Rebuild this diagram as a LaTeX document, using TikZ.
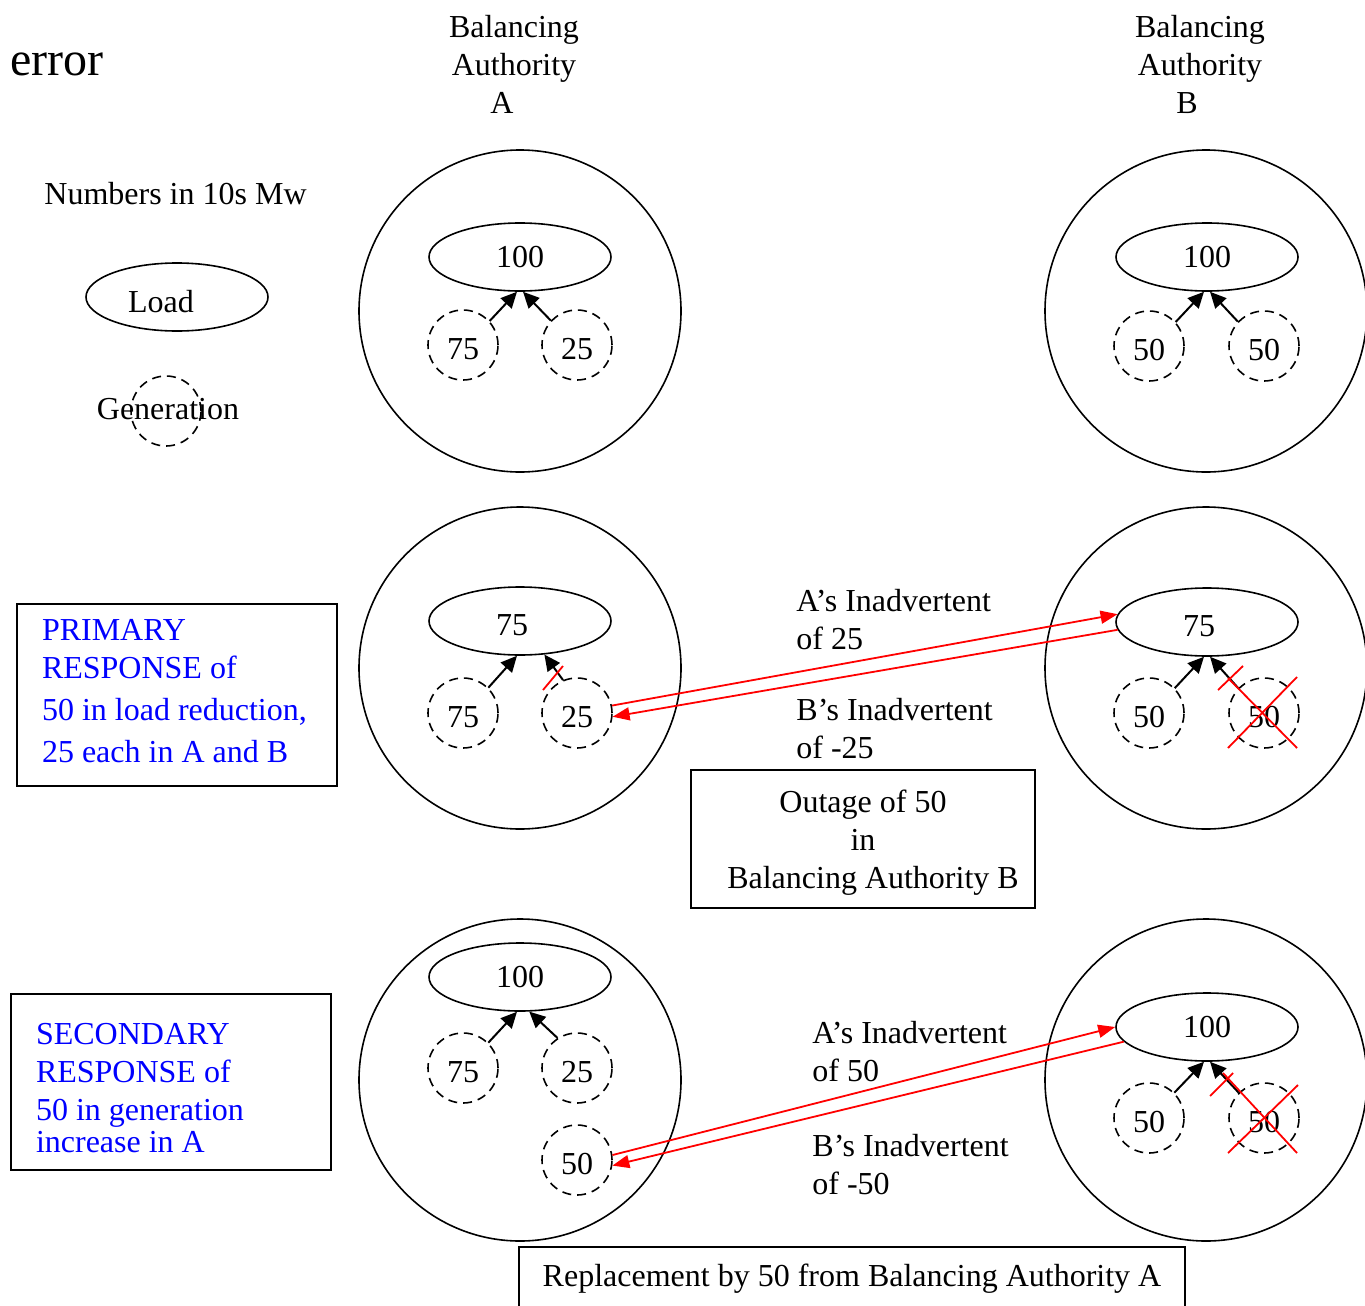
\documentclass[tikz,border=0pt]{standalone}
\usepackage{fontspec}
\setmainfont{Liberation Serif}
\usepackage{tikz}
\usetikzlibrary{
  arrows.meta,
  positioning,
  shapes.geometric
}
\definecolor{respblue}{RGB}{0,0,255}
\definecolor{flowred}{RGB}{255,0,0}
\tikzset{
  region/.style={circle,draw,line width=0.8pt,minimum size=161pt,inner sep=0pt},
  load/.style={ellipse,draw,line width=0.8pt,minimum width=91pt,minimum height=34pt,inner sep=0pt},
  gen/.style={circle,draw,line width=0.8pt,dash pattern=on 4.5pt off 3pt,minimum size=35pt,inner sep=0pt,text height=15pt},
  feed/.style={line width=1pt,-{Triangle[length=8pt,width=7.5pt]}},
  flow/.style={flowred,line width=0.9pt,-{Triangle[length=8.5pt,width=6.5pt]}},
  strike/.style={flowred,line width=0.9pt},
  lbl/.style={inner sep=0pt,align=left,anchor=west},
  respbox/.style={draw,line width=0.8pt,minimum width=160pt,text width=135pt,align=flush left,text=respblue},
  notebox/.style={draw,line width=0.8pt,align=center}
}

\begin{document}
\begin{tikzpicture}[x=0.5pt,y=-0.5pt,font=\fontsize{16}{19}\selectfont]
  \useasboundingbox (0,0) rectangle (1365,1306);

  % headings
  \node[anchor=base west,inner sep=0pt,font=\fontsize{24}{28}\selectfont] (title) at (10,75) {error};
  \node[align=center,inner sep=0pt] (headA) at (514,64) {Balancing\\Authority\\A\hspace*{12pt}};
  \node[align=center,inner sep=0pt] (headB) at (1200,64) {Balancing\\Authority\\B\hspace*{13pt}};

  % legend
  \node[anchor=base west,inner sep=0pt] (units) at (44,204) {Numbers in 10s Mw};
  \node[load] (legload) at (177,297) {};
  \node[anchor=base,inner sep=0pt] (legloadtxt) at (161,312) {Load};
  \node[gen] (leggen) at (166,411) {};
  \node[anchor=base,inner sep=0pt] (leggentxt) at (168,419) {Generation};

  % row 1
  \node[region] (ra1) at (520,311) {};
  \node[region] (rb1) at (1206,311) {};
  \node[load] (la1) at (520,257) {100};
  \node[gen] (ga1l) at (463,345) {75};
  \node[gen] (ga1r) at (577,345) {25};
  \node[load] (lb1) at (1207,257) {100};
  \node[gen] (gb1l) at (1149,346) {50};
  \node[gen] (gb1r) at (1264,346) {50};
  \draw[feed] (ga1l.42) -- (la1.265);
  \draw[feed] (ga1r.137) -- (la1.275);
  \draw[feed] (gb1l.42) -- (lb1.265);
  \draw[feed] (gb1r.137) -- (lb1.275);

  % row 2
  \node[region] (ra2) at (520,668) {};
  \node[region] (rb2) at (1206,668) {};
  \node[load,text height=15pt] (la2) at (520,621) {75\hspace*{8pt}};
  \node[gen] (ga2l) at (463,713) {75};
  \node[gen] (ga2r) at (577,713) {25};
  \node[load,text height=15pt] (lb2) at (1207,622) {75\hspace*{8pt}};
  \node[gen] (gb2l) at (1149,713) {50};
  \node[gen] (gb2r) at (1264,713) {50};
  \draw[feed] (ga2l.45) -- (la2.265);
  \draw[feed] (ga2r.113) -- (la2.306);
  \draw[feed] (gb2l.44) -- (lb2.265);
  \draw[feed] (gb2r.136) -- (lb2.275);
  \draw[strike] ([shift={(-34,-23)}]ga2r.center) -- ([shift={(-14,-47)}]ga2r.center);
  \draw[strike] ([shift={(-46,-23)}]gb2r.center) -- ([shift={(-21,-47)}]gb2r.center);
  \draw[strike] ([shift={(-36,-35)}]gb2r.center) -- ([shift={(33,35)}]gb2r.center);
  \draw[strike] ([shift={(-36,35)}]gb2r.center) -- ([shift={(33,-36)}]gb2r.center);
  \draw[flow] (ga2r.12) -- (lb2.175);
  \draw[flow] (lb2.185) -- (ga2r.354);
  \node[lbl] (inadA2) at (796,620) {A’s Inadvertent\\of 25};
  \node[lbl] (inadB2) at (796,729) {B’s Inadvertent\\of -25};

  % row 3
  \node[region] (ra3) at (520,1080) {};
  \node[region] (rb3) at (1206,1080) {};
  \node[load] (la3) at (520,977) {100};
  \node[gen] (ga3l) at (463,1068) {75};
  \node[gen] (ga3r) at (577,1068) {25};
  \node[gen] (ga3n) at (577,1160) {50};
  \node[load] (lb3) at (1207,1027) {100};
  \node[gen] (gb3l) at (1149,1118) {50};
  \node[gen] (gb3r) at (1264,1118) {50};
  \draw[feed] (ga3l.45) -- (la3.265);
  \draw[feed] (ga3r.123) -- (la3.285);
  \draw[feed] (gb3l.45) -- (lb3.265);
  \draw[feed] (gb3r.135) -- (lb3.275);
  \draw[strike] ([shift={(-54,-22)}]gb3r.center) -- ([shift={(-31,-45)}]gb3r.center);
  \draw[strike] ([shift={(-41,-45)}]gb3r.center) -- ([shift={(33,35)}]gb3r.center);
  \draw[strike] ([shift={(-36,35)}]gb3r.center) -- ([shift={(34,-33)}]gb3r.center);
  \draw[flow] (ga3n.8) -- (lb3.180);
  \draw[flow] (lb3.190) -- (ga3n.351);
  \node[lbl] (inadA3) at (812,1052) {A’s Inadvertent\\of 50};
  \node[lbl] (inadB3) at (812,1165) {B’s Inadvertent\\of -50};

  % boxes
  \node[respbox,minimum height=91pt] (primary) at (177,695)
    {PRIMARY\\RESPONSE of\\[2pt]50 in load reduction,\\[2pt]25 each in A and B\rule[-4pt]{0pt}{4pt}};
  \node[respbox,minimum height=88pt] (secondary) at (171,1082)
    {\rule{0pt}{17pt}SECONDARY\\RESPONSE of\\50 in generation\\[-3pt]increase in A};
  \node[notebox,minimum width=172pt,minimum height=69pt] (outage) at (863,839)
    {\rule{0pt}{15pt}Outage of 50\\in\\\hspace*{10pt}Balancing Authority B};
  \node[notebox,minimum width=333pt,minimum height=32pt,anchor=north] (replace) at (852,1246)
    {Replacement by 50 from Balancing Authority A};

\end{tikzpicture}
\end{document}
